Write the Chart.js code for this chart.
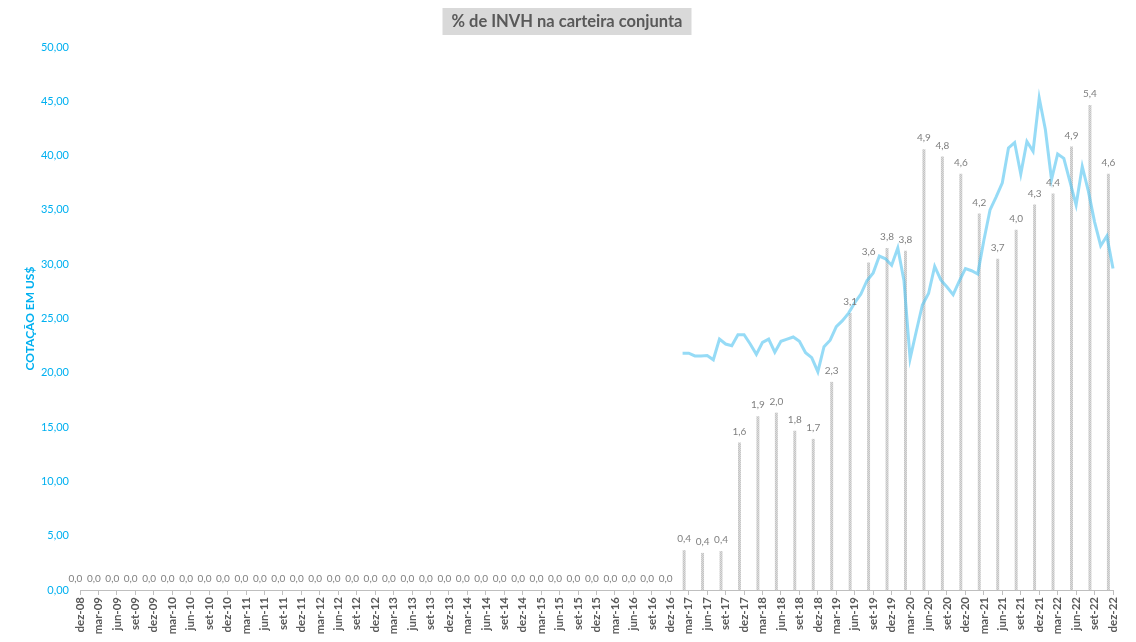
<!DOCTYPE html>
<html>
<head>
<meta charset="utf-8">
<script src="https://cdn.jsdelivr.net/npm/chart.js@4.4.0/dist/chart.umd.min.js"></script>
<style>
  html, body { margin: 0; padding: 0; background: #fff; }
  #wrap { width: 1136px; height: 642px; }
</style>
</head>
<body>
<div id="wrap"><canvas id="invhChart"></canvas></div>
<script>
const titleText = '% de INVH na carteira conjunta';

// quarterly categories (bars)
const quarters = [
    'dez-08',
    'mar-09', 'jun-09', 'set-09', 'dez-09',
    'mar-10', 'jun-10', 'set-10', 'dez-10',
    'mar-11', 'jun-11', 'set-11', 'dez-11',
    'mar-12', 'jun-12', 'set-12', 'dez-12',
    'mar-13', 'jun-13', 'set-13', 'dez-13',
    'mar-14', 'jun-14', 'set-14', 'dez-14',
    'mar-15', 'jun-15', 'set-15', 'dez-15',
    'mar-16', 'jun-16', 'set-16', 'dez-16',
    'mar-17', 'jun-17', 'set-17', 'dez-17',
    'mar-18', 'jun-18', 'set-18', 'dez-18',
    'mar-19', 'jun-19', 'set-19', 'dez-19',
    'mar-20', 'jun-20', 'set-20', 'dez-20',
    'mar-21', 'jun-21', 'set-21', 'dez-21',
    'mar-22', 'jun-22', 'set-22', 'dez-22'
];

// % of INVH in the portfolio, per quarter
const sharePct = [
    0,
    0, 0, 0, 0,
    0, 0, 0, 0,
    0, 0, 0, 0,
    0, 0, 0, 0,
    0, 0, 0, 0,
    0, 0, 0, 0,
    0, 0, 0, 0,
    0, 0, 0, 0,
    0.44, 0.41, 0.43, 1.63,
    1.92, 1.96, 1.76, 1.67,
    2.30, 3.06, 3.62, 3.78,
    3.75, 4.87, 4.79, 4.60,
    4.16, 3.66, 3.98, 4.26,
    4.38, 4.90, 5.36, 4.60
];

// monthly share price in US$, fev-17 .. dez-22
const priceStart = 33 - 1 / 3; // fev-17 = one month before mar-17 on the quarter axis
const priceUsd = [
    21.8, 21.8, 21.55, 21.55, 21.6, 21.2, 23.1, 22.65, 22.5, 23.5, 23.5,
    22.65, 21.7, 22.8, 23.1, 21.9, 22.9, 23.1, 23.3, 22.9, 21.85, 21.4, 20.1,
    22.4, 23.0, 24.25, 24.8, 25.5, 26.45, 27.25, 28.5, 29.2, 30.75, 30.5, 29.9,
    31.5, 28.5, 21.3, 23.8, 26.25, 27.3, 29.8, 28.55, 27.9, 27.2, 28.45, 29.6,
    29.4, 29.1, 32.2, 35.0, 36.2, 37.5, 40.7, 41.2, 38.3, 41.3, 40.4, 45.3,
    42.4, 37.8, 40.15, 39.75, 37.6, 35.45, 39.0, 36.7, 33.9, 31.7, 32.6, 29.6
];

const yMax = 50;
const yStep = 5;
const shareAxisMax = 6;

const fontFamily = 'Lato, "Open Sans", sans-serif';
const canvas = document.getElementById('invhChart');
const ctx = canvas.getContext('2d');

// dotted grey fill like the excel pattern
const barPattern = (function () {
    const c = document.createElement('canvas');
    c.width = 2;
    c.height = 2;
    const p = c.getContext('2d');
    p.fillStyle = '#dcdcdc';
    p.fillRect(0, 0, 2, 2);
    p.fillStyle = '#c4c4c4';
    p.fillRect(0, 0, 1, 1);
    p.fillRect(1, 1, 1, 1);
    return ctx.createPattern(c, 'repeat');
})();

const barLabels = {
    id: 'barLabels',
    afterDatasetsDraw(chart) {
        const meta = chart.getDatasetMeta(0);
        const c = chart.ctx;
        c.save();
        c.font = '10px ' + fontFamily;
        c.fillStyle = '#7f7f7f';
        c.textAlign = 'center';
        c.textBaseline = 'bottom';
        meta.data.forEach((bar, i) => {
            c.fillText(sharePct[i].toFixed(1).replace('.', ','), bar.x, bar.y - 6);
        });
        c.restore();
    }
};

const titleBox = {
    id: 'titleBox',
    afterDraw(chart) {
        const c = chart.ctx;
        c.save();
        c.font = 'bold 16.5px ' + fontFamily;
        const w = c.measureText(titleText).width;
        c.fillStyle = '#d9d9d9';
        c.fillRect(567 - w / 2 - 9, 8, w + 18, 27);
        c.fillStyle = '#595959';
        c.textAlign = 'center';
        c.textBaseline = 'middle';
        c.fillText(titleText, 567, 22);
        c.restore();
    }
};

new Chart(ctx, {
    type: 'bar',
    data: {
        labels: quarters,
        datasets: [{
            type: 'bar',
            label: '% na carteira',
            data: sharePct,
            xAxisID: 'x',
            yAxisID: 'y1',
            backgroundColor: barPattern,
            barPercentage: 0.32,
            categoryPercentage: 1,
            order: 1,
            clip: false
        }, {
            type: 'line',
            label: 'Cotação',
            data: priceUsd.map((v, k) => ({ x: priceStart + k / 3, y: v })),
            xAxisID: 'xm',
            yAxisID: 'y',
            borderColor: 'rgba(80, 195, 240, 0.6)',
            borderWidth: 3,
            pointRadius: 0,
            tension: 0,
            order: 0,
            clip: false
        }]
    },
    options: {
        responsive: true,
        maintainAspectRatio: false,
        animation: false,
        layout: { padding: { top: 47, right: 23, left: 0, bottom: 0 } },
        plugins: {
            legend: { display: false },
            tooltip: { enabled: false },
            title: { display: false }
        },
        scales: {
            x: {
                type: 'category',
                offset: false,
                grid: {
                    display: true,
                    offset: false,
                    drawOnChartArea: false,
                    drawTicks: true,
                    tickLength: 5,
                    color: '#bfbfbf'
                },
                border: { display: true, color: '#bfbfbf' },
                ticks: {
                    autoSkip: false,
                    minRotation: 90,
                    maxRotation: 90,
                    padding: 2,
                    color: '#595959',
                    font: { family: fontFamily, size: 11.5, weight: 'bold' }
                },
                afterFit(scale) { scale.height = 52; }
            },
            xm: {
                type: 'linear',
                display: false,
                offset: false,
                grid: { offset: false },
                min: 0,
                max: quarters.length - 1
            },
            y: {
                position: 'left',
                min: 0,
                max: yMax,
                grid: { display: false, drawTicks: false },
                border: { display: false },
                ticks: {
                    stepSize: yStep,
                    padding: 11,
                    color: '#00b0f0',
                    font: { family: fontFamily, size: 11 },
                    callback: v => v.toFixed(2).replace('.', ',')
                },
                title: {
                    display: true,
                    text: 'COTAÇÃO EM US$',
                    color: '#00b0f0',
                    font: { family: fontFamily, size: 12, weight: 'bold' },
                    padding: { top: 23, bottom: 0 }
                },
                afterFit(scale) { scale.width = 80; }
            },
            y1: {
                display: false,
                position: 'right',
                min: 0,
                max: shareAxisMax
            }
        }
    },
    plugins: [barLabels, titleBox]
});
</script>
</body>
</html>
